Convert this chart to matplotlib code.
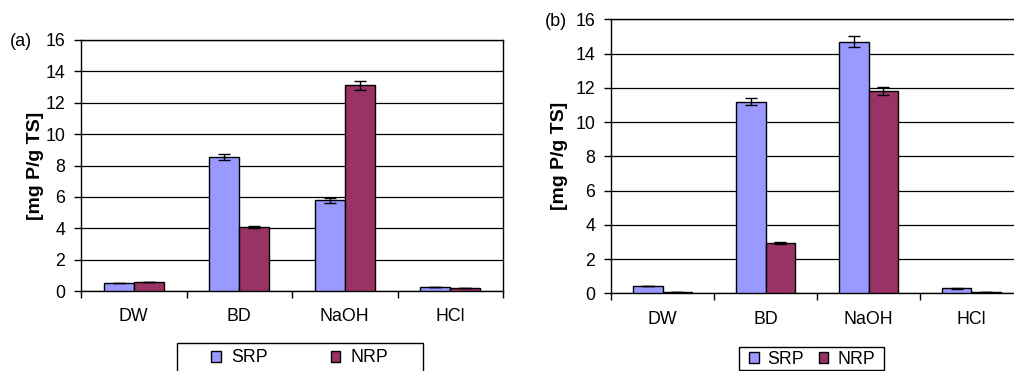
import matplotlib
matplotlib.use("Agg")
import matplotlib.pyplot as plt
from matplotlib.patches import Rectangle
import numpy as np

plt.rcParams['font.family'] = ['Liberation Sans', 'DejaVu Sans']

categorias = ["DW", "BD", "NaOH", "HCl"]

# painel (a)
srp_a = [0.50, 8.55, 5.78, 0.25]
srp_a_err = [0.0, 0.18, 0.14, 0.0]
nrp_a = [0.55, 4.08, 13.10, 0.17]
nrp_a_err = [0.0, 0.07, 0.28, 0.0]

# painel (b)
srp_b = [0.43, 11.20, 14.70, 0.29]
srp_b_err = [0.0, 0.21, 0.30, 0.03]
nrp_b = [0.10, 2.92, 11.80, 0.08]
nrp_b_err = [0.0, 0.05, 0.22, 0.0]

cor_srp = "#9999FF"
cor_nrp = "#993366"
fs = 12.8
W, H = 1014, 371


def painel(ax, srp, srp_err, nrp, nrp_err):
    x = np.arange(len(categorias))
    w = 0.2857
    ax.bar(x - w/2, srp, w, color=cor_srp, edgecolor="black", linewidth=1.0,
           label="SRP", zorder=3)
    ax.bar(x + w/2, nrp, w, color=cor_nrp, edgecolor="black", linewidth=1.0,
           label="NRP", zorder=3)
    ax.errorbar(x - w/2, srp, yerr=srp_err, fmt="none", ecolor="black",
                elinewidth=1.0, capsize=4, capthick=1.0, zorder=4)
    ax.errorbar(x + w/2, nrp, yerr=nrp_err, fmt="none", ecolor="black",
                elinewidth=1.0, capsize=4, capthick=1.0, zorder=4)
    ax.set_xlim(-0.5, 3.5)
    ax.set_ylim(0, 16)
    ax.set_yticks(np.arange(0, 17, 2))
    ax.yaxis.grid(True, color="black", linewidth=0.9, zorder=0)
    ax.set_axisbelow(True)
    ax.set_xticks(np.arange(-0.5, 4, 1))
    ax.set_xticklabels([])
    ax.set_xticks(x, minor=True)
    ax.set_xticklabels(categorias, minor=True, fontsize=fs)
    ax.tick_params(axis="x", which="minor", length=0, pad=12.5)
    ax.tick_params(axis="x", which="major", length=5, direction="out", width=1)
    ax.tick_params(axis="y", length=5, direction="out", width=1, labelsize=fs, pad=6.5)
    for s in ["left", "bottom", "top", "right"]:
        ax.spines[s].set_color("black")
        ax.spines[s].set_linewidth(1.0)
    ax.set_ylabel("[mg P/g TS]", fontsize=14, fontweight="bold")


def legenda(fig, ax, cx, cy, colsp, txtpad, caixa):
    x0, y0, x1, y1 = caixa
    fig.patches.append(Rectangle((x0/W, 1 - y1/H), (x1 - x0)/W, (y1 - y0)/H,
                                 transform=fig.transFigure, facecolor="white",
                                 edgecolor="black", linewidth=1.0))
    fig.legend(*ax.get_legend_handles_labels(), loc="center",
               bbox_to_anchor=(cx/W, 1 - cy/H), ncol=2, fontsize=fs,
               frameon=False, handlelength=0.55, handleheight=0.55,
               handletextpad=txtpad, columnspacing=colsp, borderpad=0,
               borderaxespad=0)


fig = plt.figure(figsize=(W/100, H/100), dpi=100)

ax1 = fig.add_axes([81/W, 1 - 291/H, 422/W, 251/H])
painel(ax1, srp_a, srp_a_err, nrp_a, nrp_a_err)
ax1.yaxis.set_label_coords(-0.088, 0.5)

ax2 = fig.add_axes([611/W, 1 - 293.3/H, 412/W, 274/H])
painel(ax2, srp_b, srp_b_err, nrp_b, nrp_b_err)
ax2.yaxis.set_label_coords(-0.105, 0.5)

fig.text(10/W, 1 - 42/H, "(a)", fontsize=13, va="center", ha="left")
fig.text(545/W, 1 - 22/H, "(b)", fontsize=13, va="center", ha="left")

legenda(fig, ax1, 300, 358, 3.5, 0.6, (177, 343, 423, 420))
legenda(fig, ax2, 812, 359, 0.8, 0.5, (739, 347, 884, 370))

fig.savefig("out.png", dpi=100)
